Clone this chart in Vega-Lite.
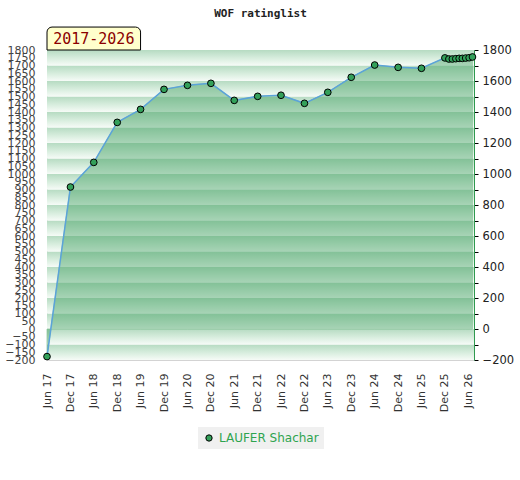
{
  "$schema": "https://vega.github.io/schema/vega-lite/v6.json",
  "autosize": {"type": "none"},
  "padding": {"left": 47, "top": 50, "right": 46, "bottom": 120},
  "width": 427,
  "height": 310,
  "title": {
    "text": "WOF ratinglist",
    "font": "DejaVu Sans Mono",
    "fontSize": 11,
    "fontWeight": "bold",
    "color": "#222",
    "anchor": "middle",
    "offset": 8
  },
  "datasets": {
    "bands": [
      {"lo": -200, "hi": -100}, {"lo": -100, "hi": 0}, {"lo": 0, "hi": 100}, {"lo": 100, "hi": 200},
      {"lo": 200, "hi": 300}, {"lo": 300, "hi": 400}, {"lo": 400, "hi": 500}, {"lo": 500, "hi": 600},
      {"lo": 600, "hi": 700}, {"lo": 700, "hi": 800}, {"lo": 800, "hi": 900}, {"lo": 900, "hi": 1000},
      {"lo": 1000, "hi": 1100}, {"lo": 1100, "hi": 1200}, {"lo": 1200, "hi": 1300}, {"lo": 1300, "hi": 1400},
      {"lo": 1400, "hi": 1500}, {"lo": 1500, "hi": 1600}, {"lo": 1600, "hi": 1700}, {"lo": 1700, "hi": 1800}
    ],
    "ratings": [
      {"date": "2017-06-01", "rating": -178, "player": "LAUFER Shachar"},
      {"date": "2017-12-01", "rating": 916, "player": "LAUFER Shachar"},
      {"date": "2018-06-01", "rating": 1075, "player": "LAUFER Shachar"},
      {"date": "2018-12-01", "rating": 1333, "player": "LAUFER Shachar"},
      {"date": "2019-06-01", "rating": 1417, "player": "LAUFER Shachar"},
      {"date": "2019-12-01", "rating": 1546, "player": "LAUFER Shachar"},
      {"date": "2020-06-01", "rating": 1572, "player": "LAUFER Shachar"},
      {"date": "2020-12-01", "rating": 1585, "player": "LAUFER Shachar"},
      {"date": "2021-06-01", "rating": 1475, "player": "LAUFER Shachar"},
      {"date": "2021-12-01", "rating": 1501, "player": "LAUFER Shachar"},
      {"date": "2022-06-01", "rating": 1508, "player": "LAUFER Shachar"},
      {"date": "2022-12-01", "rating": 1456, "player": "LAUFER Shachar"},
      {"date": "2023-06-01", "rating": 1527, "player": "LAUFER Shachar"},
      {"date": "2023-12-01", "rating": 1624, "player": "LAUFER Shachar"},
      {"date": "2024-06-01", "rating": 1703, "player": "LAUFER Shachar"},
      {"date": "2024-12-01", "rating": 1688, "player": "LAUFER Shachar"},
      {"date": "2025-06-01", "rating": 1682, "player": "LAUFER Shachar"},
      {"date": "2025-12-01", "rating": 1749, "player": "LAUFER Shachar"},
      {"date": "2026-01-01", "rating": 1742, "player": "LAUFER Shachar"},
      {"date": "2026-01-28", "rating": 1742, "player": "LAUFER Shachar"},
      {"date": "2026-02-24", "rating": 1744, "player": "LAUFER Shachar"},
      {"date": "2026-03-22", "rating": 1746, "player": "LAUFER Shachar"},
      {"date": "2026-04-16", "rating": 1746, "player": "LAUFER Shachar"},
      {"date": "2026-05-12", "rating": 1748, "player": "LAUFER Shachar"},
      {"date": "2026-06-08", "rating": 1750, "player": "LAUFER Shachar"},
      {"date": "2026-07-04", "rating": 1755, "player": "LAUFER Shachar"}
    ],
    "tab": [{"label": "2017-2026"}]
  },
  "layer": [
    {
      "data": {"name": "bands"},
      "mark": {
        "type": "rect",
        "color": {
          "gradient": "linear", "x1": 0, "y1": 0, "x2": 0, "y2": 1,
          "stops": [
            {"offset": 0, "color": "#b6dbc2"},
            {"offset": 0.55, "color": "#d9eedf"},
            {"offset": 1, "color": "#f6fbf7"}
          ]
        }
      },
      "encoding": {
        "y": {
          "field": "lo", "type": "quantitative",
          "scale": {"domain": [-200, 1800], "nice": false, "zero": false},
          "axis": {
            "orient": "left", "title": null, "format": "d",
            "values": [-200,-150,-100,-50,0,50,100,150,200,250,300,350,400,450,500,550,600,650,700,750,800,850,900,950,1000,1050,1100,1150,1200,1250,1300,1350,1400,1450,1500,1550,1600,1650,1700,1750,1800],
            "labelOverlap": false, "labelBound": false, "labelFlush": false,
            "ticks": false, "domain": false, "grid": false,
            "labelPadding": 12, "labelFontSize": 11, "labelFont": "DejaVu Sans", "labelColor": "#444"
          }
        },
        "y2": {"field": "hi"}
      }
    },
    {
      "data": {"name": "ratings"},
      "mark": {"type": "area", "color": "#3d9e5e", "opacity": 0.42, "stroke": "#3a9a55", "strokeWidth": 1, "strokeOpacity": 1},
      "encoding": {
        "x": {
          "field": "date", "type": "temporal",
          "scale": {"type": "utc", "domain": [{"year": 2017, "month": 6, "date": 1, "utc": true}, {"year": 2026, "month": 7, "date": 16, "utc": true}]},
          "axis": {
            "title": null,
            "values": [
              {"year": 2017, "month": 6, "date": 1, "utc": true}, {"year": 2017, "month": 12, "date": 1, "utc": true},
              {"year": 2018, "month": 6, "date": 1, "utc": true}, {"year": 2018, "month": 12, "date": 1, "utc": true},
              {"year": 2019, "month": 6, "date": 1, "utc": true}, {"year": 2019, "month": 12, "date": 1, "utc": true},
              {"year": 2020, "month": 6, "date": 1, "utc": true}, {"year": 2020, "month": 12, "date": 1, "utc": true},
              {"year": 2021, "month": 6, "date": 1, "utc": true}, {"year": 2021, "month": 12, "date": 1, "utc": true},
              {"year": 2022, "month": 6, "date": 1, "utc": true}, {"year": 2022, "month": 12, "date": 1, "utc": true},
              {"year": 2023, "month": 6, "date": 1, "utc": true}, {"year": 2023, "month": 12, "date": 1, "utc": true},
              {"year": 2024, "month": 6, "date": 1, "utc": true}, {"year": 2024, "month": 12, "date": 1, "utc": true},
              {"year": 2025, "month": 6, "date": 1, "utc": true}, {"year": 2025, "month": 12, "date": 1, "utc": true},
              {"year": 2026, "month": 6, "date": 1, "utc": true}
            ],
            "labelExpr": "utcFormat(datum.value, '%b %y')",
            "labelAngle": 270, "labelOverlap": false, "labelBound": false, "labelFlush": false,
            "ticks": false, "domain": false, "grid": false,
            "labelPadding": 13, "labelFontSize": 11, "labelFont": "DejaVu Sans", "labelColor": "#333"
          }
        },
        "y": {"field": "rating", "type": "quantitative", "axis": null}
      }
    },
    {
      "data": {"name": "ratings"},
      "mark": {"type": "line", "color": "#5ba3d9", "strokeWidth": 1.5},
      "encoding": {
        "x": {"field": "date", "type": "temporal"},
        "y": {"field": "rating", "type": "quantitative", "axis": null}
      }
    },
    {
      "data": {"name": "ratings"},
      "mark": {"type": "point", "filled": true, "size": 45, "stroke": "black", "strokeWidth": 1, "opacity": 1},
      "encoding": {
        "x": {"field": "date", "type": "temporal"},
        "y": {
          "field": "rating", "type": "quantitative",
          "axis": {
            "orient": "right", "title": null,
            "values": [-200,-100,0,100,200,300,400,500,600,700,800,900,1000,1100,1200,1300,1400,1500,1600,1700,1800],
            "labelExpr": "datum.value % 200 == 0 ? format(datum.value, 'd') : ''",
            "labelOverlap": false, "labelBound": false, "labelFlush": false,
            "grid": false, "domainColor": "#2f9a4f", "domainWidth": 1,
            "tickColor": "black", "tickSize": 4,
            "labelPadding": 4, "labelFontSize": 11.5, "labelFont": "DejaVu Sans", "labelColor": "#222"
          }
        },
        "color": {
          "field": "player", "type": "nominal",
          "scale": {"range": ["#33a05a"]},
          "legend": {
            "title": null, "orient": "none", "legendX": 151, "legendY": 377,
            "fillColor": "#f0f0f0", "padding": 5,
            "symbolType": "circle", "symbolSize": 40, "symbolStrokeColor": "black", "symbolStrokeWidth": 1,
            "labelColor": "#2ea44f", "labelFontSize": 12, "labelFont": "DejaVu Sans"
          }
        }
      }
    },
    {
      "data": {"name": "tab"},
      "mark": {"type": "rect", "fill": "#ffffcc", "stroke": "black", "strokeWidth": 1, "cornerRadiusTopLeft": 5, "cornerRadiusTopRight": 5, "clip": false},
      "encoding": {
        "x": {"datum": {"year": 2017, "month": 6, "date": 1, "utc": true}, "type": "temporal"},
        "x2": {"datum": {"year": 2019, "month": 6, "date": 1, "utc": true}},
        "y": {"datum": 1800, "type": "quantitative", "axis": null},
        "y2": {"datum": 1948}
      }
    },
    {
      "data": {"name": "tab"},
      "mark": {"type": "text", "font": "DejaVu Sans Mono", "fontSize": 15, "color": "#8b0000", "baseline": "middle", "align": "center", "clip": false},
      "encoding": {
        "x": {"datum": {"year": 2018, "month": 6, "date": 1, "utc": true}, "type": "temporal"},
        "y": {"datum": 1872, "type": "quantitative", "axis": null},
        "text": {"field": "label"}
      }
    }
  ],
  "resolve": {"axis": {"y": "independent"}},
  "config": {
    "view": {"stroke": "#d3d3d3"},
    "axisX": {"labelOverlap": false, "labelBound": false, "labelFlush": false, "tickCount": 20}
  }
}
